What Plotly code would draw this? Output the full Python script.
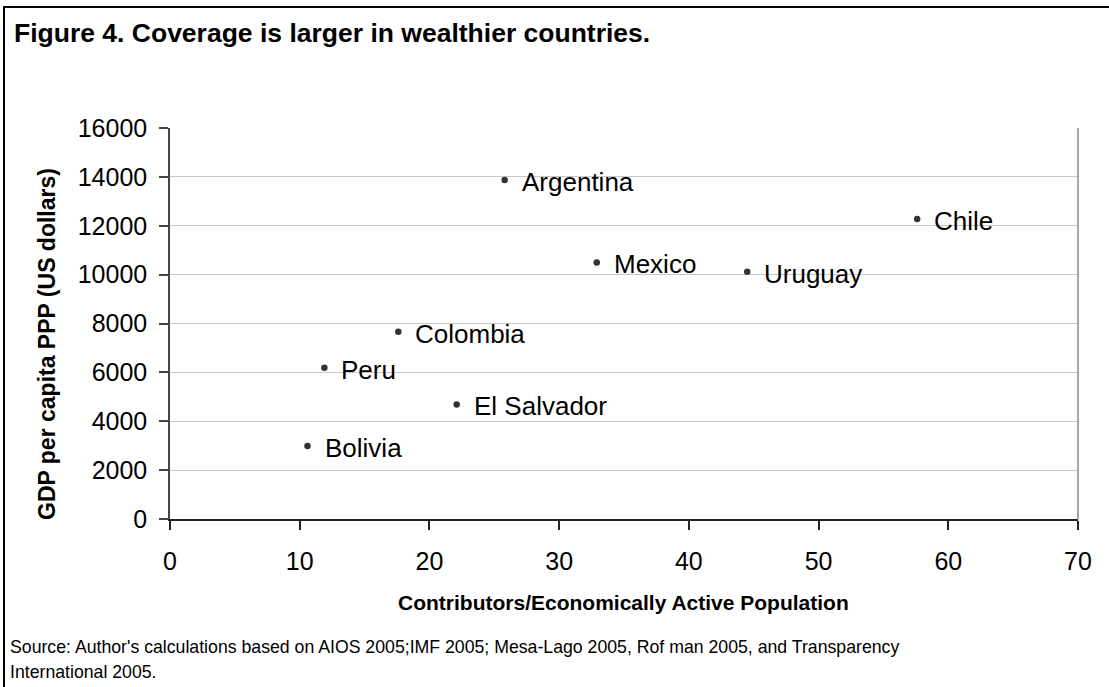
import plotly.graph_objects as go

countries = ["Argentina", "Chile", "Mexico", "Uruguay", "Colombia", "Peru", "El Salvador", "Bolivia"]
coverage = [25.8, 57.6, 32.9, 44.5, 17.6, 11.9, 22.1, 10.6]
gdp_ppp = [13870, 12280, 10500, 10120, 7660, 6190, 4690, 2990]
x_ticks = [0, 10, 20, 30, 40, 50, 60, 70]
y_ticks = [0, 2000, 4000, 6000, 8000, 10000, 12000, 14000, 16000]

W, H = 1109, 687
L, R, T, B = 170, 1078, 128, 519
pw, ph = R - L, B - T


def px(xp):
    return (xp - L) / pw


def py(yp):
    return (B - yp) / ph


FONT = "Liberation Sans, Arial, sans-serif"

fig = go.Figure()
fig.add_trace(go.Scatter(
    x=coverage, y=gdp_ppp, mode="markers",
    marker=dict(color="#333333", size=6.5),
    hoverinfo="skip", showlegend=False,
))

for c, xv, yv in zip(countries, coverage, gdp_ppp):
    fig.add_annotation(x=xv, y=yv, xref="x", yref="y", text=c, showarrow=False,
                       xanchor="left", yanchor="middle", xshift=15, yshift=-2,
                       font=dict(family=FONT, size=26, color="black"))

fig.update_layout(
    width=W, height=H,
    margin=dict(l=L, r=W - R, t=T, b=H - B, pad=0),
    paper_bgcolor="white", plot_bgcolor="white",
    font=dict(family=FONT, color="black"),
    xaxis=dict(range=[0, 70], tickvals=x_ticks, ticktext=[str(v) for v in x_ticks],
               showgrid=False, zeroline=False, showline=True, linecolor="#222222", linewidth=1.5,
               ticks="outside", ticklen=9, tickcolor="#222222", tickwidth=1.5,
               tickfont=dict(family=FONT, size=25, color="black"), ticklabelstandoff=10),
    yaxis=dict(range=[0, 16000], tickvals=y_ticks, ticktext=[str(v) for v in y_ticks],
               showgrid=True, gridcolor="#c8c8c8", gridwidth=1, zeroline=False,
               showline=True, linecolor="#444444", linewidth=1.5,
               ticks="outside", ticklen=9, tickcolor="#444444", tickwidth=1.5,
               tickfont=dict(family=FONT, size=25, color="black"), ticklabelstandoff=7),
)

# right plot border
fig.add_shape(type="line", xref="paper", yref="paper", x0=1, x1=1, y0=0, y1=1,
              line=dict(color="#8a8a8a", width=1.5))
# outer frame
fig.add_shape(type="rect", xref="paper", yref="paper",
              x0=px(4), x1=px(1130), y0=py(7), y1=py(720),
              line=dict(color="black", width=2), fillcolor="rgba(0,0,0,0)", layer="above")

fig.add_annotation(xref="paper", yref="paper", x=px(12), y=py(33), xanchor="left", yanchor="middle",
                   text="<b>Figure 4. Coverage is larger in wealthier countries.</b>", showarrow=False,
                   font=dict(family=FONT, size=26.5, color="black"))
fig.add_annotation(xref="paper", yref="paper", x=px(47), y=py(344), xanchor="center", yanchor="middle",
                   text="<b>GDP per capita PPP (US dollars)</b>", textangle=-90, showarrow=False,
                   font=dict(family=FONT, size=23, color="black"))
fig.add_annotation(xref="paper", yref="paper", x=px(623), y=py(602), xanchor="center", yanchor="middle",
                   text="<b>Contributors/Economically Active Population</b>", showarrow=False,
                   font=dict(family=FONT, size=21, color="black"))
fig.add_annotation(xref="paper", yref="paper", x=px(8), y=py(647), xanchor="left", yanchor="middle",
                   text="Source: Author's calculations based on AIOS 2005;IMF 2005; Mesa-Lago 2005, Rof man 2005, and Transparency",
                   showarrow=False, font=dict(family=FONT, size=17.7, color="black"))
fig.add_annotation(xref="paper", yref="paper", x=px(8), y=py(672), xanchor="left", yanchor="middle",
                   text="International 2005.", showarrow=False,
                   font=dict(family=FONT, size=17.7, color="black"))

fig.write_html("out.html", config={"displayModeBar": False},
               post_script="document.body.style.margin='0';document.body.style.overflow='hidden';")
